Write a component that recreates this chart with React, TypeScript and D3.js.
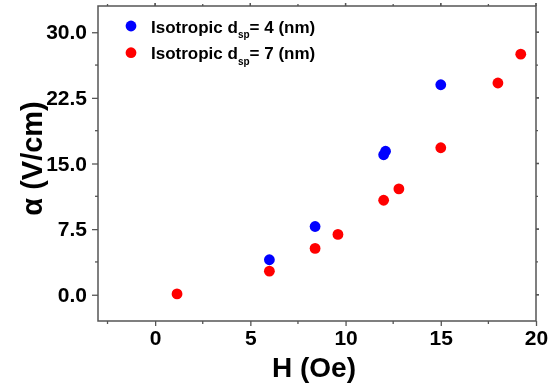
import * as d3 from "d3";
import React, { useEffect, useRef } from "react";

// data: H (Oe) vs alpha (V/cm)
const blueH = [6.0, 8.4, 12.0, 12.1, 15.0];
const blueAlpha = [4.0, 7.8, 16.0, 16.4, 24.0];
const redH = [1.15, 6.0, 8.4, 9.6, 12.0, 12.8, 15.0, 18.0, 19.2];
const redAlpha = [0.1, 2.7, 5.3, 6.9, 10.8, 12.1, 16.8, 24.2, 27.5];
const xTicks = [0, 5, 10, 15, 20];
const yTicks = [0, 7.5, 15, 22.5, 30];
const legendLabels = ["4", "7"];
const colors = ["#0000ff", "#ff0000"];

const App = () => {
  const svgRef = useRef<SVGSVGElement>(null);

  useEffect(() => {
    const width = 549,
      height = 385;
    const margin = { top: 6, right: 13, bottom: 64, left: 98 };
    const font = "Arial, 'Liberation Sans', sans-serif";

    const svg = d3
      .select(svgRef.current)
      .html("")
      .attr("width", width)
      .attr("height", height)
      .style("display", "block");

    const x = d3.scaleLinear().domain([-3, 20]).range([margin.left, width - margin.right]);
    const y = d3.scaleLinear().domain([-3, 33]).range([height - margin.bottom, margin.top]);

    const axisColor = "#555";
    const x0 = x.range()[0], x1 = x.range()[1];
    const y0 = y.range()[0], y1 = y.range()[1];

    // frame
    svg
      .append("rect")
      .attr("x", x0)
      .attr("y", y1)
      .attr("width", x1 - x0)
      .attr("height", y0 - y1)
      .attr("fill", "none")
      .attr("stroke", axisColor)
      .attr("stroke-width", 1.5);

    const xMinor = d3.range(-2.5, 20.01, 2.5);
    const yMinor = d3.range(-3.75, 33, 3.75).filter((v) => v > -3 && v < 33);

    // bottom axis
    const bottom = svg.append("g").attr("transform", `translate(0,${y0})`);
    bottom
      .call(
        d3
          .axisBottom(x)
          .tickValues(xTicks)
          .tickSize(5)
          .tickPadding(4)
          .tickFormat(d3.format("d"))
      )
      .call((g) => g.select(".domain").remove());
    bottom
      .selectAll(".minor")
      .data(xMinor.filter((v) => !xTicks.includes(v)))
      .enter()
      .append("line")
      .attr("x1", (d) => x(d))
      .attr("x2", (d) => x(d))
      .attr("y1", 0)
      .attr("y2", 3);

    // left axis
    const left = svg.append("g").attr("transform", `translate(${x0},0)`);
    left
      .call(
        d3
          .axisLeft(y)
          .tickValues(yTicks)
          .tickSize(6)
          .tickPadding(5)
          .tickFormat(d3.format(".1f"))
      )
      .call((g) => g.select(".domain").remove());
    left
      .selectAll(".minor")
      .data(yMinor.filter((v) => !yTicks.includes(v)))
      .enter()
      .append("line")
      .attr("x1", 0)
      .attr("x2", -3)
      .attr("y1", (d) => y(d))
      .attr("y2", (d) => y(d));

    // top and right mirrored ticks
    const top = svg.append("g");
    top
      .selectAll("line")
      .data(xMinor.concat(xTicks))
      .enter()
      .append("line")
      .attr("x1", (d) => x(d))
      .attr("x2", (d) => x(d))
      .attr("y1", y1)
      .attr("y2", (d) => y1 - (xTicks.includes(d) ? 3 : 2));
    const right = svg.append("g");
    right
      .selectAll("line")
      .data(yMinor.concat(yTicks))
      .enter()
      .append("line")
      .attr("x1", x1)
      .attr("x2", (d) => x1 + (yTicks.includes(d) ? 3 : 2))
      .attr("y1", (d) => y(d))
      .attr("y2", (d) => y(d));

    svg.selectAll("line").attr("stroke", axisColor).attr("stroke-width", 1.3);
    svg
      .selectAll(".tick text")
      .attr("fill", "#000")
      .style("font-family", font)
      .style("font-size", "21px")
      .style("font-weight", "bold");

    // points
    const series = [
      { h: blueH, a: blueAlpha, color: colors[0] },
      { h: redH, a: redAlpha, color: colors[1] },
    ];
    series.forEach((s) => {
      svg
        .append("g")
        .selectAll("circle")
        .data(s.h.map((h, i) => [h, s.a[i]]))
        .enter()
        .append("circle")
        .attr("cx", (d) => x(d[0]))
        .attr("cy", (d) => y(d[1]))
        .attr("r", 5.4)
        .attr("fill", s.color);
    });

    // legend
    legendLabels.forEach((lab, i) => {
      const g = svg.append("g").attr("transform", `translate(131,${26 + i * 26.7})`);
      g.append("circle").attr("r", 5.4).attr("fill", colors[i]);
      const t = g
        .append("text")
        .attr("x", 20)
        .attr("y", 6.7)
        .style("font-family", font)
        .style("font-size", "17px")
        .style("font-weight", "bold");
      t.append("tspan").text("Isotropic d");
      t.append("tspan").attr("dy", 5.5).style("font-size", "10px").text("sp");
      t.append("tspan").attr("dy", -5.5).text(`= ${lab} (nm)`);
    });

    // axis titles
    svg
      .append("text")
      .attr("x", (x0 + x1) / 2 - 3)
      .attr("y", 377)
      .attr("text-anchor", "middle")
      .style("font-family", font)
      .style("font-size", "28px")
      .style("font-weight", "bold")
      .text("H (Oe)");

    svg
      .append("text")
      .attr("transform", `translate(42,${(y0 + y1) / 2 - 5}) rotate(-90)`)
      .attr("text-anchor", "middle")
      .style("font-family", font)
      .style("font-size", "29px")
      .style("font-weight", "bold")
      .text("α (V/cm)");
  }, []);

  return (
    <div style={{ position: "fixed", left: 0, top: 0 }}>
      <svg ref={svgRef} />
    </div>
  );
};

export default App;
